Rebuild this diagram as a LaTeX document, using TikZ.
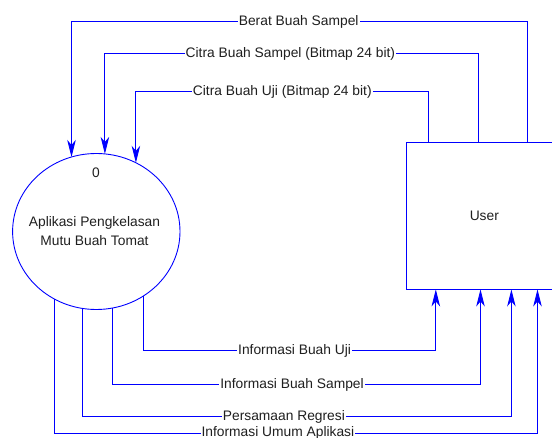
\documentclass[tikz,border=0pt]{standalone}
\usepackage{fontspec}
\setmainfont{Liberation Sans}
\usetikzlibrary{shapes.geometric,arrows.meta}
\begin{document}
\begin{tikzpicture}[x=1pt,y=-1pt,
 flow/.style={draw=blue, line width=0.9pt},
 arr/.style={-{Stealth[length=17pt,width=8.5pt,inset=5pt]}},
 txt/.style={font=\fontsize{13.8}{18.3}\selectfont, text=black!88},
 lbl/.style={txt, fill=white, inner sep=1pt, anchor=base},
]
\useasboundingbox (0,0) rectangle (552,438);
% nodes
\node[ellipse, draw=blue, line width=0.9pt, minimum width=167.4pt, minimum height=156pt,
      inner sep=0] (proc) at (96.3,231.5) {};
\node[txt, align=center, inner sep=0] (ptext) at (94.5,231) {Aplikasi Pengkelasan\\Mutu Buah Tomat};
\node[txt, inner sep=0] (num) at (96,172.3) {0};
\node[draw=blue, line width=0.9pt, minimum width=155.3pt, minimum height=146.3pt,
      inner sep=0, txt] (user) at (484.35,215.85) {User};
% ports on the process ellipse
\coordinate (a1) at (71.5,157);
\coordinate (a2) at (104.9,153.9);
\coordinate (a3) at (135.9,162.8);
\coordinate (b1) at (143.6,295.9);
\coordinate (b2) at (112.6,308);
\coordinate (b3) at (82,308.3);
\coordinate (b4) at (54.6,299.1);
% corner coordinates
\coordinate (ta1) at (527.6,21.5);
\coordinate (ta2) at (478.7,53.5);
\coordinate (ta3) at (428.7,91.5);
\coordinate (tb1) at (435.8,350.5);
\coordinate (tb2) at (480.5,384.3);
\coordinate (tb3) at (511.4,416.7);
\coordinate (tb4) at (537.5,433);
% top flows
\draw[flow,arr] (user.north -| ta1) -- (ta1) -- (ta1 -| a1) -- (a1);
\draw[flow,arr] (user.north -| ta2) -- (ta2) -- (ta2 -| a2) -- (a2);
\draw[flow,arr] (user.north -| ta3) -- (ta3) -- (ta3 -| a3) -- (a3);
% bottom flows
\draw[flow,arr] (b1) -- (b1 |- tb1) -- (tb1) -- (user.south -| tb1);
\draw[flow,arr] (b2) -- (b2 |- tb2) -- (tb2) -- (user.south -| tb2);
\draw[flow,arr] (b3) -- (b3 |- tb3) -- (tb3) -- (user.south -| tb3);
\draw[flow,arr] (b4) -- (b4 |- tb4) -- (tb4) -- (user.south -| tb4);
% labels
\node[lbl] (l1) at (298.7,25.3) {Berat Buah Sampel};
\node[lbl] (l2) at (290.4,57.3) {Citra Buah Sampel (Bitmap 24 bit)};
\node[lbl] (l3) at (282.3,95.3) {Citra Buah Uji (Bitmap 24 bit)};
\node[lbl] (l4) at (294.6,354.3) {Informasi Buah Uji};
\node[lbl] (l5) at (292,388.1) {Informasi Buah Sampel};
\node[lbl] (l6) at (283.9,420.5) {Persamaan Regresi};
\node[lbl] (l7) at (277.9,436.8) {Informasi Umum Aplikasi};
\end{tikzpicture}
\end{document}
